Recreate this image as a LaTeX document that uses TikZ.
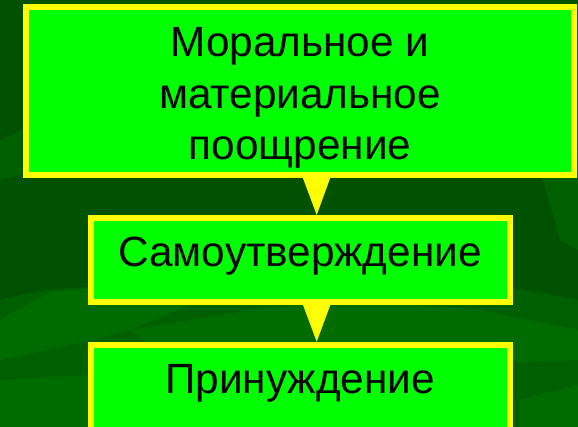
\documentclass[tikz,border=0pt]{standalone}
\usepackage{fontspec}
\setmainfont{Liberation Sans}
\definecolor{bgdark}{HTML}{005200}
\definecolor{bgmid}{HTML}{006000}
\definecolor{bglight}{HTML}{006C00}
\definecolor{boxfill}{HTML}{00FF00}
\definecolor{boxline}{HTML}{FFFF00}
\tikzset{
  box/.style={draw=boxline, fill=boxfill, line width=6pt, rectangle, inner sep=0pt},
  txt/.style={anchor=base, text=black, inner sep=0pt, font=\fontsize{42.3}{50}\selectfont},
  arrowtri/.style={fill=boxline, draw=none}
}
\begin{document}
\begin{tikzpicture}[x=1pt,y=-1pt]
\useasboundingbox (0,0) rectangle (578,427);
\clip (0,0) rectangle (578,427);
% background
\fill[bgdark] (0,0) rectangle (578,427);
\fill[bgmid] (0,300) -- (45,290) -- (150,282) -- (260,275) -- (380,270) -- (480,282) -- (578,300) -- (578,427) -- (0,427) -- cycle;
\fill[bglight] (0,320) -- (50,292) -- (140,285) -- (200,300) -- (130,330) -- (70,345) -- (0,360) -- cycle;
\fill[bglight] (130,330) -- (250,310) -- (350,300) -- (480,310) -- (578,330) -- (578,360) -- (520,362) -- (420,355) -- (300,345) -- (150,345) -- cycle;
\fill[bglight] (0,380) -- (90,375) -- (90,427) -- (0,427) -- cycle;
\fill[bglight] (520,400) -- (578,385) -- (578,427) -- (520,427) -- cycle;
\fill[bgmid] (540,170) -- (578,150) -- (578,250) -- (560,240) -- cycle;
\fill[bgmid] (0,140) -- (22,130) -- (22,175) -- (0,180) -- cycle;
% boxes
\node[box, minimum width=548.3pt, minimum height=168pt] (b1) at (299.85,91) {};
\node[box, minimum width=419pt, minimum height=84pt] (b2) at (300.2,260) {};
\node[box, minimum width=419pt, minimum height=110pt] (b3) at (300.2,399.7) {};
% connectors
\fill[arrowtri] ([xshift=2.7pt,yshift=1pt]b1.south) -- ([xshift=30.7pt,yshift=1pt]b1.south) -- ([xshift=16.5pt]b2.north) -- cycle;
\fill[arrowtri] ([xshift=2.5pt,yshift=1pt]b2.south) -- ([xshift=30.5pt,yshift=1pt]b2.south) -- ([xshift=16.5pt]b3.north) -- cycle;
% texts
\node[txt] (t1a) at (300,57) {Моральное и};
\node[txt] (t1b) at (300,108.5) {материальное};
\node[txt] (t1c) at (300,160) {поощрение};
\node[txt] (t2) at (300,267) {Самоутверждение};
\node[txt] (t3) at (300,393) {Принуждение};
\end{tikzpicture}
\end{document}
